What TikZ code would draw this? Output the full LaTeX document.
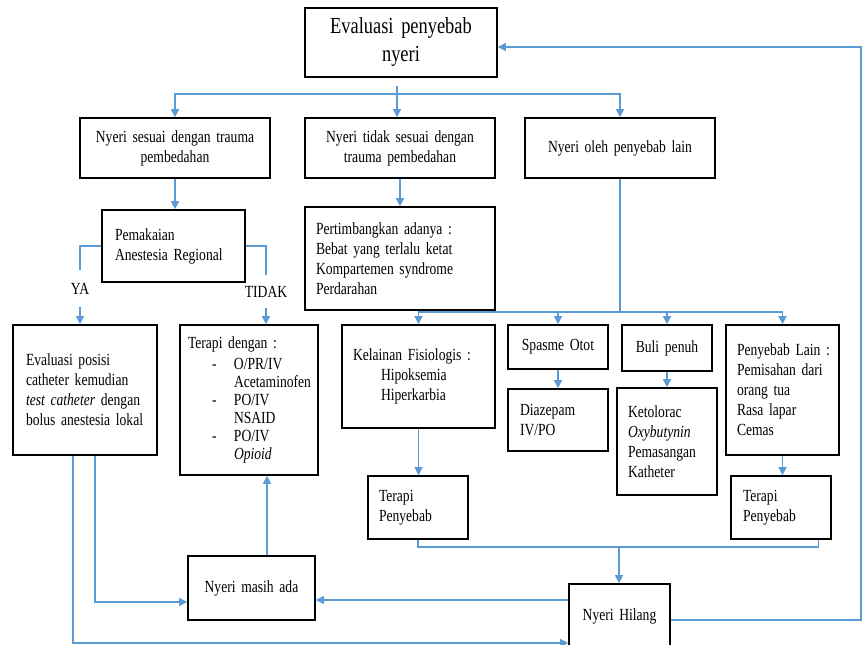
\documentclass[tikz,border=0pt]{standalone}
\usepackage{fontspec}
\setmainfont{Liberation Serif}[FakeStretch=0.8]
\usetikzlibrary{arrows.meta}
\definecolor{garisbiru}{RGB}{91,155,213}
\hyphenpenalty=10000
\exhyphenpenalty=10000
\tikzset{
  kotak/.style={draw, line width=1.6pt, inner ysep=3pt, align=left, font={\fontsize{17}{20}\selectfont\spaceskip=3.4pt\relax}},
  teks/.style={inner sep=0pt, font=\fontsize{17}{20}\selectfont},
  garis/.style={garisbiru, line width=1.3pt},
  panah/.style={garis, -{Triangle[length=8pt,width=8pt]}}
}
\begin{document}
\begin{tikzpicture}[x=1pt,y=-1pt]
    \useasboundingbox (0,0) rectangle (863,645);

    % baris atas
    \node[kotak, align=center, inner xsep=12pt, text width=168pt, minimum height=69pt, font={\fontsize{23}{28}\selectfont\spaceskip=4.6pt\relax}] (evaluasi) at (401,42.5) {Evaluasi penyebab\\nyeri};
    \node[kotak, align=center, inner xsep=12pt, text width=166pt, minimum height=60pt] (sesuai) at (175,148) {Nyeri sesuai dengan trauma\\pembedahan};
    \node[kotak, align=center, inner xsep=12pt, text width=166pt, minimum height=60pt] (tidaksesuai) at (400,148) {Nyeri tidak sesuai dengan\\trauma pembedahan};
    \node[kotak, align=center, inner xsep=12pt, text width=166pt, minimum height=60pt] (lain) at (620,148) {Nyeri oleh penyebab lain};

    % cabang kiri
    \node[kotak, inner xsep=13pt, text width=117pt, minimum height=72pt] (pakai) at (173.5,246) {Pemakaian\\Anestesia~Regional};
    \node[teks, minimum height=37pt] (ya) at (80,288.5) {YA};
    \node[teks, minimum height=33pt] (tidak) at (266,291.5) {TIDAK};
    \node[kotak, inner xsep=13pt, text width=118pt, minimum height=130pt] (posisi) at (85,390) {Evaluasi posisi\\catheter kemudian\\\textit{test catheter} dengan\\bolus~anestesia~lokal};
    \node[kotak, inner xsep=8pt, text width=122pt, minimum height=150pt, font={\fontsize{17}{18}\selectfont\spaceskip=3.4pt\relax}] (terapi) at (249,400) {Terapi dengan :\\[3pt]
        \hspace*{24pt}\makebox[22pt][l]{-}O/PR/IV\\
        \hspace*{46pt}Acetaminofen\\
        \hspace*{24pt}\makebox[22pt][l]{-}PO/IV\\
        \hspace*{46pt}NSAID\\
        \hspace*{24pt}\makebox[22pt][l]{-}PO/IV\\
        \hspace*{46pt}\textit{Opioid}};

    % cabang tengah dan kanan
    \node[kotak, inner xsep=11pt, text width=168pt, minimum height=103pt] (timbang) at (400,258.5) {Pertimbangkan adanya :\\Bebat yang terlalu ketat\\Kompartemen~syndrome\\Perdarahan};
    \node[kotak, inner xsep=11pt, text width=131pt, minimum height=103pt] (kelainan) at (418.5,376.5) {Kelainan~Fisiologis~:\\\hspace*{28pt}Hipoksemia\\\hspace*{28pt}Hiperkarbia};
    \node[kotak, align=center, inner xsep=8pt, text width=84pt, minimum height=44pt] (spasme) at (558,347) {Spasme~Otot};
    \node[kotak, inner xsep=12pt, text width=76pt, minimum height=62pt] (diazepam) at (558,420) {Diazepam\\IV/PO};
    \node[kotak, align=center, inner xsep=8pt, text width=74pt, minimum height=46pt] (buli) at (667,348) {Buli~penuh};
    \node[kotak, inner xsep=11pt, text width=78pt, minimum height=107pt] (ketolorac) at (667,441.5) {Ketolorac\\\textit{Oxybutynin}\\Pemasangan\\Katheter};
    \node[kotak, inner xsep=11pt, text width=91pt, minimum height=130pt] (sebablain) at (782.5,390) {Penyebab~Lain~:\\Pemisahan~dari\\orang tua\\Rasa lapar\\Cemas};
    \node[kotak, inner xsep=11pt, text width=78pt, minimum height=63pt] (terapisatu) at (418,507.5) {Terapi\\Penyebab};
    \node[kotak, inner xsep=12pt, text width=76pt, minimum height=63pt] (terapidua) at (781,507.5) {Terapi\\Penyebab};

    % baris bawah
    \node[kotak, align=center, inner xsep=8pt, text width=111pt, minimum height=64pt] (masih) at (251.5,588) {Nyeri~masih~ada};
    \node[kotak, align=center, inner xsep=8pt, text width=85pt, minimum height=64pt] (hilang) at (619.5,616) {Nyeri~Hilang};

    \coordinate (cabang) at (397,86);
    \coordinate (bagi) at (397,94);
    \coordinate (bagidua) at (620,312);
    \coordinate (gabung) at (619,547);
    \coordinate (pojok) at (861,47);

    \draw[panah] (cabang) -- (cabang |- tidaksesuai.north);
    \draw[panah] (bagi) -| (sesuai.north);
    \draw[panah] (bagi) -| (lain.north);

    \draw[panah] (sesuai.south) -- (sesuai.south |- pakai.north);
    \draw[garis] (pakai.west) -| (ya.north);
    \draw[panah] (ya.south) -- (ya.south |- posisi.north);
    \draw[garis] (pakai.east) -| (tidak.north);
    \draw[panah] (tidak.south) -- (tidak.south |- terapi.north);

    \draw[panah] (tidaksesuai.south) -- (timbang.north);
    \draw[garis] (lain.south) -- (bagidua);
    \draw[panah] (bagidua) -| (kelainan.north);
    \draw[panah] (bagidua) -| (spasme.north);
    \draw[panah] (bagidua) -| (buli.north);
    \draw[panah] (bagidua) -| (sebablain.north);

    \draw[panah] (kelainan.south) -- (kelainan.south |- terapisatu.north);
    \draw[panah] (spasme.south) -- (diazepam.north);
    \draw[panah] (buli.south) -- (ketolorac.north);
    \draw[panah] (sebablain.south) -- (sebablain.south |- terapidua.north);

    \draw[garis] (terapisatu.south) |- (gabung) -| ([xshift=-13pt]terapidua.south east);
    \draw[panah] (gabung) -- (gabung |- hilang.north);

    \draw[panah] ([xshift=15.5pt]masih.north) -- ([xshift=15.5pt]masih.north |- terapi.south);
    \draw[panah] ([yshift=16pt]hilang.west) -- ([yshift=16pt]hilang.west -| masih.east);
    \draw[panah] ([xshift=10pt]posisi.south) |- ([yshift=-14pt]masih.west);
    \draw[panah] ([xshift=-12pt]posisi.south) |- ([yshift=-27pt]hilang.west);
    \draw[panah] ([yshift=-4pt]hilang.east) -| (pojok) -- (pojok -| evaluasi.east);

\end{tikzpicture}
\end{document}
